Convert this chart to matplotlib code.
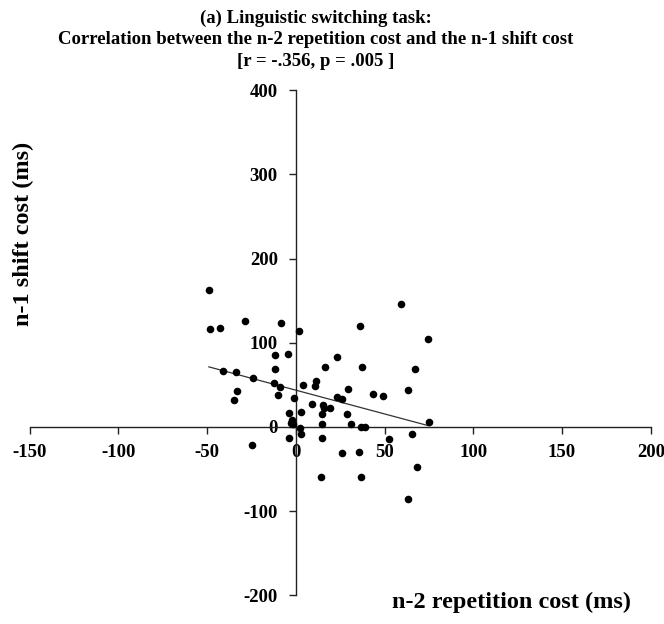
import numpy as np
import matplotlib
matplotlib.use('Agg')
import matplotlib.pyplot as plt

# n-2 repetition cost (ms) and n-1 shift cost (ms)
rep_cost = [-49.0, -48.4, -42.8, -28.7, -8.4, 1.7, -11.8, -4.5, -41.1, -33.8,
            -24.2, -11.8, -12.4, -9.0, 3.9, -33.2, -34.9, -10.1, -1.1, -3.9,
            2.8, -2.3, -2.8, -1.7, 2.3, 2.8, -3.9, -24.8, 59.1, 36.0,
            74.3, 23.1, 16.3, 37.2, 67.0, 11.3, 10.7, 29.3, 63.1, 43.4,
            49.0, 23.1, 25.9, 9.0, 15.2, 15.8, 19.2, 14.6, 28.7, 74.9,
            31.0, 14.6, 36.6, 38.9, 65.3, 52.4, 14.6, 25.9, 35.5, 68.2,
            14.1, 36.6, 63.1]
shift_cost = [162.7, 116.4, 117.6, 125.9, 123.5, 114.0, 85.5, 86.7, 66.5, 65.3,
              58.2, 68.9, 52.3, 47.5, 49.9, 42.8, 32.1, 38.0, 34.4, 16.6,
              17.8, 8.3, 4.8, 3.6, -1.2, -8.3, -13.1, -21.4, 146.1, 120.0,
              104.5, 83.1, 71.3, 71.3, 68.9, 54.6, 48.7, 45.1, 43.9, 39.2,
              36.8, 35.6, 33.3, 27.3, 26.1, 22.6, 22.6, 15.4, 15.4, 5.9,
              3.6, 3.6, 0.0, 0.0, -8.3, -14.3, -13.1, -30.9, -29.7, -47.5,
              -59.4, -59.4, -85.5]

x_ticks = [-150, -100, -50, 0, 50, 100, 150, 200]
y_ticks = [-200, -100, 0, 100, 200, 300, 400]

title_lines = ["(a) Linguistic switching task:",
               "Correlation between the n-2 repetition cost and the n-1 shift cost",
               "[r = -.356, p = .005 ]"]

FONT = 'Liberation Serif'
plt.rcParams['axes.unicode_minus'] = False

fig = plt.figure(figsize=(6.64, 6.24), dpi=100)
ax = fig.add_axes([0.0446, 0.046, 0.9355, 0.8095])

x = np.array(rep_cost)
y = np.array(shift_cost)
ax.scatter(x, y, s=30, color='black', zorder=3, linewidths=0)

# linear trend line across the observed range
slope, intercept = np.polyfit(x, y, 1)
xl = np.array([x.min(), x.max()])
ax.plot(xl, slope * xl + intercept, color='#333333', linewidth=0.9, zorder=2)

ax.set_xlim(-150, 200)
ax.set_ylim(-200, 400)
ax.set_xticks(x_ticks)
ax.set_yticks(y_ticks)

ax.spines['left'].set_position(('data', 0))
ax.spines['bottom'].set_position(('data', 0))
ax.spines['right'].set_visible(False)
ax.spines['top'].set_visible(False)
for sp in ('left', 'bottom'):
    ax.spines[sp].set_color('#222222')
    ax.spines[sp].set_linewidth(1.0)

ax.tick_params(axis='both', direction='out', length=5, width=1.0, color='#222222')
ax.tick_params(axis='x', pad=7)
ax.tick_params(axis='y', pad=8)
for lab in ax.get_xticklabels() + ax.get_yticklabels():
    lab.set_fontfamily(FONT)
    lab.set_fontweight('bold')
    lab.set_fontsize(13.5)

fig.text(0.035, 0.625, "n-1 shift cost (ms)", rotation=90, ha='center', va='center',
         family=FONT, fontweight='bold', fontsize=17.5)
fig.text(0.77, 0.034, "n-2 repetition cost (ms)", ha='center', va='center',
         family=FONT, fontweight='bold', fontsize=17.5)

for i, line in enumerate(title_lines):
    fig.text(0.476, 0.971 - i * 0.035, line, ha='center', va='center',
             family=FONT, fontweight='bold', fontsize=13.5)

fig.savefig('out.png', dpi=100)
